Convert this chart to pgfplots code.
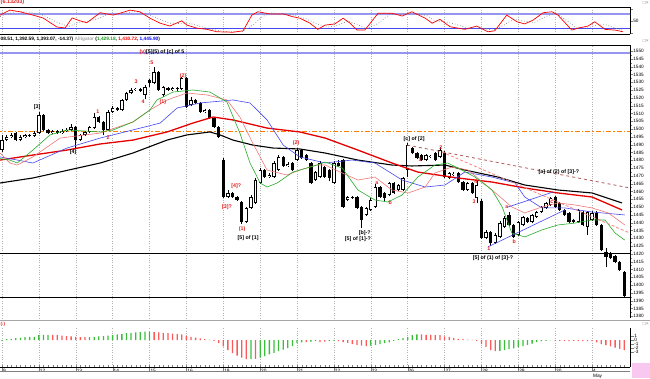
\documentclass[border=0pt]{standalone}
\usepackage{fontspec}
\setmainfont{Liberation Sans}
\usepackage{pgfplots}
\usepackage{pgfplotstable}
\pgfplotsset{compat=1.18}

\definecolor{lipsgreen}{RGB}{40,170,40}
\definecolor{teethred}{RGB}{240,120,120}
\definecolor{jawblue}{RGB}{70,70,240}
\definecolor{lavender}{RGB}{150,150,240}
\definecolor{lblred}{RGB}{225,30,30}
\definecolor{histgreen}{RGB}{60,190,60}
\definecolor{histred}{RGB}{250,90,90}
\definecolor{trendbrown}{RGB}{180,90,90}
\definecolor{trendsalmon}{RGB}{245,130,130}
\definecolor{pinkbox}{RGB}{248,200,240}
\definecolor{txtgreen}{RGB}{30,150,30}

% up (white) candles: bar index, open, high, low, close
\pgfplotstableread{
x o h l c
0 1486.5 1496.0 1485.5 1492.9
1 1492.9 1496.2 1492.0 1494.9
2 1494.9 1497.5 1494.0 1496.2
4 1492.9 1496.0 1492.0 1494.9
5 1494.9 1497.0 1494.0 1496.2
7 1495.5 1498.5 1495.0 1497.4
8 1497.4 1510.9 1496.8 1509.0
11 1497.4 1499.4 1496.8 1498.7
13 1497.4 1500.0 1497.0 1498.7
14 1498.7 1500.6 1498.0 1499.4
15 1499.4 1503.2 1498.7 1501.3
17 1492.9 1497.0 1492.3 1496.2
18 1496.2 1499.0 1495.5 1498.1
19 1498.1 1502.0 1497.4 1501.3
20 1500.6 1510.0 1500.0 1507.7
23 1499.4 1512.0 1498.7 1510.9
24 1510.9 1514.5 1510.3 1513.5
26 1512.2 1519.5 1511.5 1518.6
27 1518.6 1524.0 1518.0 1523.1
28 1523.1 1526.3 1522.4 1525.0
29 1525.0 1526.3 1524.4 1525.7
31 1521.8 1528.0 1519.0 1526.9
33 1529.5 1539.7 1528.8 1536.5
35 1521.8 1527.6 1520.5 1526.9
37 1525.0 1527.0 1524.4 1526.3
39 1525.6 1533.4 1525.0 1532.7
41 1515.4 1520.5 1514.8 1518.6
44 1510.9 1513.0 1510.0 1512.2
49 1456.4 1460.9 1455.8 1459.0
53 1440.4 1450.0 1439.7 1449.4
54 1449.4 1457.7 1448.8 1456.4
55 1452.6 1468.6 1452.0 1467.3
56 1465.4 1475.0 1464.8 1473.7
58 1469.2 1471.5 1468.6 1470.5
59 1469.2 1479.5 1468.6 1478.2
60 1473.7 1483.3 1473.0 1482.1
62 1476.3 1478.8 1475.6 1477.6
64 1480.1 1488.0 1479.5 1486.5
68 1467.3 1473.0 1466.6 1472.4
69 1469.2 1479.5 1468.6 1478.2
72 1465.4 1479.5 1464.8 1478.2
75 1454.5 1457.0 1453.9 1456.4
79 1444.9 1450.0 1444.3 1449.4
80 1448.1 1456.0 1447.5 1454.5
81 1450.0 1465.0 1449.4 1462.8
84 1457.7 1466.0 1457.0 1465.4
86 1460.9 1465.0 1460.3 1464.1
87 1460.9 1469.2 1460.3 1468.6
88 1473.7 1491.0 1469.2 1489.7
92 1480.1 1484.0 1479.5 1483.3
93 1482.1 1483.3 1481.4 1482.8
95 1482.1 1488.5 1481.4 1486.5
97 1468.6 1472.4 1468.0 1471.8
98 1470.5 1472.4 1469.8 1471.2
101 1460.9 1466.0 1460.3 1465.4
103 1455.8 1467.0 1452.6 1464.1
105 1430.1 1435.3 1429.5 1434.0
107 1426.9 1433.3 1426.3 1432.1
108 1430.8 1441.0 1430.1 1439.7
109 1437.2 1444.3 1436.5 1443.0
112 1432.1 1441.0 1431.5 1440.4
113 1438.5 1444.3 1437.8 1443.6
115 1440.4 1445.5 1439.7 1444.9
116 1443.6 1447.5 1443.0 1446.8
117 1446.8 1450.6 1446.2 1450.0
118 1449.4 1453.2 1448.8 1452.6
119 1451.3 1456.4 1450.6 1455.8
125 1440.4 1448.8 1439.7 1448.1
127 1437.2 1447.5 1432.1 1446.8
128 1441.7 1447.5 1441.0 1446.2
}\upcandles

% down (black) candles
\pgfplotstableread{
x o h l c
3 1497.4 1498.1 1492.0 1492.9
6 1496.2 1497.0 1494.8 1495.5
9 1509.0 1509.6 1498.7 1499.4
10 1499.4 1500.0 1496.8 1497.4
12 1498.7 1499.4 1496.8 1497.4
16 1501.3 1502.0 1488.0 1492.9
21 1507.7 1508.5 1504.0 1504.5
22 1504.5 1505.0 1496.0 1499.4
25 1513.5 1514.0 1511.5 1512.2
30 1525.6 1526.0 1523.7 1524.4
32 1531.4 1532.0 1527.0 1529.5
34 1536.5 1537.2 1524.4 1525.0
36 1526.3 1527.0 1524.4 1525.0
38 1526.3 1526.9 1524.4 1525.6
40 1532.7 1533.4 1513.5 1514.1
42 1518.6 1519.2 1516.0 1516.7
43 1516.7 1517.3 1510.3 1510.9
45 1512.2 1512.8 1506.4 1507.1
46 1507.1 1507.7 1500.6 1501.3
47 1501.3 1502.0 1494.2 1494.9
48 1480.1 1481.4 1455.8 1456.4
50 1459.0 1459.6 1455.8 1456.4
51 1456.4 1457.0 1453.9 1454.5
52 1453.2 1454.0 1439.1 1440.4
57 1473.7 1474.3 1468.6 1469.2
61 1482.1 1482.7 1475.6 1476.3
63 1478.2 1478.8 1473.0 1473.7
65 1486.5 1487.0 1480.8 1481.4
66 1483.3 1484.0 1479.5 1480.1
67 1478.2 1478.8 1464.8 1465.4
70 1475.6 1476.3 1468.6 1469.2
71 1473.7 1474.3 1466.6 1468.6
73 1478.2 1480.1 1475.6 1476.3
74 1480.1 1480.8 1449.4 1450.0
76 1456.4 1457.0 1455.2 1455.8
77 1456.4 1457.0 1448.8 1449.4
78 1450.0 1450.6 1436.5 1441.7
82 1462.8 1463.5 1455.8 1456.4
83 1459.0 1459.6 1453.2 1455.8
85 1465.4 1466.0 1458.4 1459.0
89 1487.8 1488.5 1484.0 1484.6
90 1484.6 1485.3 1480.8 1481.4
91 1483.3 1484.0 1479.5 1480.1
94 1484.6 1485.3 1479.5 1480.1
96 1484.6 1486.0 1468.6 1469.2
99 1471.8 1472.4 1465.4 1466.0
100 1466.0 1466.6 1460.3 1460.9
102 1465.4 1466.0 1458.4 1459.0
104 1453.9 1455.0 1429.5 1430.1
106 1434.0 1434.6 1425.0 1426.9
110 1444.9 1446.8 1437.8 1438.5
111 1438.5 1439.1 1430.1 1430.8
114 1443.0 1443.6 1439.7 1440.4
120 1456.4 1457.0 1449.4 1450.0
121 1452.6 1453.2 1447.5 1448.1
122 1448.1 1448.8 1444.3 1444.9
123 1446.2 1446.8 1439.7 1440.4
124 1441.7 1442.4 1439.7 1440.4
126 1446.8 1447.5 1437.8 1438.5
129 1446.2 1447.5 1437.8 1438.5
130 1438.5 1439.1 1421.8 1422.4
131 1421.2 1423.7 1411.5 1417.9
132 1420.5 1421.2 1416.6 1417.3
133 1418.6 1419.2 1414.0 1414.7
134 1414.7 1415.4 1409.0 1409.6
135 1408.5 1409.2 1392.6 1393.1
}\downcandles

% histogram (green bars)
\pgfplotstableread{
x v
0 -0.3
1 0.2
2 0.3
3 0.5
4 0.6
5 0.7
6 0.8
7 0.8
8 1.2
9 1.3
10 1.3
19 0.7
20 0.8
21 0.9
22 1.0
23 1.1
24 1.2
25 1.4
26 1.5
27 1.7
28 1.8
29 1.9
30 2.0
31 2.1
32 2.1
54 -4.8
56 -4.4
57 -4.0
58 -3.6
59 -3.2
60 -2.8
61 -2.4
62 -2.0
63 -1.5
64 -0.8
65 -0.6
67 -0.4
68 -0.3
71 -0.3
72 -0.2
80 -1.4
81 -1.2
82 -1.0
83 -0.8
84 -0.6
85 -0.2
86 0.2
87 0.5
88 0.8
89 1.2
90 1.4
108 -2.7
109 -2.5
110 -2.3
111 -2.1
112 -1.8
113 -1.5
114 -1.2
115 -0.9
116 -0.5
117 -0.3
118 -0.2
119 -0.1
}\histgreen

% histogram (red bars)
\pgfplotstableread{
x v
11 1.3
12 1.2
13 1.1
14 1.0
15 0.9
16 0.8
17 0.7
18 0.7
33 2.0
34 1.9
35 1.8
36 1.7
37 1.6
38 1.5
39 1.4
40 1.0
41 0.8
42 0.6
43 0.4
44 0.2
45 0.1
46 -0.2
47 -0.8
48 -1.6
49 -2.5
50 -3.3
51 -3.9
52 -4.4
53 -4.8
55 -4.7
66 -0.5
69 -0.5
70 -0.4
73 -0.3
74 -0.5
75 -0.7
76 -1.0
77 -1.2
78 -1.4
79 -1.5
91 1.4
92 1.3
93 1.3
94 1.2
95 1.2
96 0.9
97 0.7
98 0.5
99 0.3
100 0.2
101 0.1
102 0.05
103 -0.2
104 -1.0
105 -1.8
106 -2.5
107 -2.8
120 -0.2
121 -0.2
122 -0.25
123 -0.25
124 -0.2
125 -0.2
126 -0.25
127 -0.3
128 -0.3
129 -0.6
130 -1.0
131 -1.3
132 -1.6
133 -1.9
134 -2.2
135 -2.5
}\histred

\pgfplotsset{
  panel/.style={
    anchor=south west, scale only axis, width=630pt,
    xmin=-0.434, xmax=136.23,
    axis y line*=right,
    xtick={0,8,...,128},
    xmajorgrids, major grid style={gray!60, dotted},
    tick align=outside, major tick length=2.5pt, minor tick length=1.5pt,
    yticklabel style={font=\fontsize{4.7}{5}\selectfont, inner sep=0.6pt},
    /pgf/number format/1000 sep={},
    /pgf/number format/assume math mode=true,
    axis line style={black, line width=0.6pt},
    clip mode=individual,
  },
}
\tikzset{
  lb/.style={font=\fontsize{5.3}{6}\selectfont\bfseries, inner sep=0pt},
  rl/.style={lb, text=lblred},
  icon/.style={anchor=east, inner sep=0pt, text=gray, font=\fontsize{5}{5}\selectfont},
}

\begin{document}
\begin{tikzpicture}[x=1pt,y=1pt]
\path[use as bounding box] (0,0) rectangle (650,378);

% ---------------- stochastic panel ----------------
\begin{axis}[panel, at={(0pt,344pt)}, height=27pt,
  ymin=-3.4, ymax=110,
  axis x line*=box,
  xticklabels={}, x tick style={draw=none},
  ytick={0,50,100}, yticklabels={,50,},
]
\addplot[lavender, line width=1.6pt] coordinates {(-1,80) (137,80)};
\addplot[jawblue, line width=0.9pt] coordinates {(-1,20) (137,20)};
\addplot[gray, dotted, line width=0.7pt] coordinates {
(-0.4,70) (3,92) (6,88) (9,75) (12,45) (14.5,28) (16.5,45) (18.5,50) (21,62) (23,80)
(26,82) (29,92) (31.5,82) (34,60) (36.5,42) (39,40) (41,40) (43,28) (46,14) (49,6)
(52,6) (54.5,35) (56.5,70) (58.5,85) (61,82) (63.5,75) (66,60) (68.5,38) (70.5,25)
(72.5,32) (75,50) (77,38) (79,18) (81.5,40) (84,78) (86.5,80) (89,82) (92,75) (94,52)
(96,48) (98,40) (101,22) (104,22) (106.5,12) (108.5,30) (111,58) (113.5,50) (115.5,45)
(118,70) (120,85) (122,60) (124.5,25) (127,22) (129,35) (131,35) (133.5,18) (134.8,12)};
\addplot[red, line width=0.7pt] coordinates {
(-0.4,76) (1.7,97) (3.9,90) (6.7,76) (8.9,64) (11.9,26) (13.7,22) (15.2,64) (16.9,52)
(18.4,44) (20.6,76) (21.3,86) (24.1,76) (25.6,84) (27.8,97) (29.9,90) (32.1,63) (34.3,42)
(36.4,30) (39,52) (40.1,34) (42.3,21) (44.5,16) (46.6,6) (50.1,4) (52.3,10) (54.2,76)
(55.5,90) (58.1,81) (61,81) (63.1,69) (64.6,63) (66.8,42) (68.5,16) (70.1,34) (72.2,39)
(74,63) (75.5,42) (77,13) (78.7,13) (81.6,84) (84.6,84) (86.8,72) (88.9,90) (91.8,63)
(93.3,42) (95,58) (97.2,27) (100.4,16) (103,30) (105.4,6) (106.9,10) (109.5,76)
(111.7,48) (113.4,39) (115.2,55) (117.4,86) (119.3,90) (120.6,76) (123.6,13) (124.9,21)
(127.1,30) (128.6,48) (130.8,16) (133,13) (134.7,6)};
\end{axis}

% ---------------- main price panel ----------------
\begin{axis}[panel, at={(0pt,60pt)}, height=273pt,
  ymin=1378.85, ymax=1553.85,
  axis x line*=top,
  xticklabels={}, x tick style={draw=none},
  ytick={1380,1385,...,1550}, minor y tick num=1,
]
% horizontal levels
\addplot[color=orange, line width=1.1pt, dash pattern=on 5pt off 2pt on 1.5pt off 2pt] coordinates {(-1,1498.3) (137,1498.3)};
\addplot[lavender, line width=1.8pt] coordinates {(-1,1548.5) (137,1548.5)};
\addplot[black, line width=0.8pt] coordinates {(-1,1420.5) (137,1420.5)};
\addplot[black, line width=0.8pt] coordinates {(-1,1392.1) (137,1392.1)};

% candles: wicks
\addplot[draw=none, mark=none, error bars/.cd, y dir=plus, y explicit, error mark=none,
  error bar style={draw=black, line width=0.6pt}]
  table[x=x, y=l, y error expr=\thisrow{h}-\thisrow{l}] {\upcandles};
\addplot[draw=none, mark=none, error bars/.cd, y dir=plus, y explicit, error mark=none,
  error bar style={draw=black, line width=0.6pt}]
  table[x=x, y=l, y error expr=\thisrow{h}-\thisrow{l}] {\downcandles};
% candles: bodies
\addplot[draw=none, mark=none, error bars/.cd, y dir=plus, y explicit, error mark=none,
  error bar style={draw=black, line width=3.3pt}]
  table[x=x, y=c, y error expr=\thisrow{o}-\thisrow{c}] {\downcandles};
\addplot[draw=none, mark=none, error bars/.cd, y dir=plus, y explicit, error mark=none,
  error bar style={draw=black, line width=3.3pt}]
  table[x=x, y=o, y error expr=\thisrow{c}-\thisrow{o}] {\upcandles};
\addplot[draw=none, mark=none, error bars/.cd, y dir=plus, y explicit, error mark=none,
  error bar style={draw=white, line width=1.9pt}]
  table[x=x, y expr=\thisrow{o}+0.45, y error expr=\thisrow{c}-\thisrow{o}-0.9] {\upcandles};

% long moving averages
\addplot[black, line width=1.1pt] coordinates {
(-0.4,1465.4) (6.7,1468.6) (21.3,1478.2) (28.4,1484.6) (35.8,1492.9) (40.1,1496.2)
(45.1,1498.1) (47.3,1496.2) (50.1,1492.9) (54.4,1489.7) (58.8,1487.8) (64.6,1487.2)
(70.1,1484.6) (77.2,1480.1) (84.6,1476.9) (88.9,1476.3) (96.1,1476.9) (100.4,1473.7)
(107.6,1469.2) (113.4,1464.1) (120.6,1460.9) (128,1459.0) (134.5,1452.6)};
\addplot[red!90!black, line width=1.3pt] coordinates {
(-0.4,1480.1) (6.7,1483.3) (14.1,1486.5) (21.3,1490.4) (28.4,1492.9) (35.8,1498.1)
(41.4,1503.8) (45.8,1507.7) (50.1,1505.8) (57.5,1500.6) (64.6,1498.1) (70.1,1494.2)
(77.2,1486.5) (84.6,1478.2) (90.2,1472.4) (98.9,1468.6) (106.3,1466.0) (113.4,1462.2)
(120.6,1459.0) (128,1456.4) (134.5,1448.1)};
% alligator: jaw, teeth, lips
\addplot[jawblue, line width=0.6pt] coordinates {
(-0.4,1482.1) (3.3,1480.1) (6.7,1478.2) (14.1,1487.8) (21.3,1494.2) (28.4,1499.4)
(34.3,1503.8) (38,1513.5) (43,1516.7) (50.1,1518.6) (53.8,1516.7) (57.5,1505.8)
(61,1489.7) (64.6,1482.1) (70.1,1478.2) (75.9,1480.1) (80.9,1478.2) (86.8,1467.3)
(91.8,1462.8) (96.1,1464.1) (100.4,1472.4) (106.3,1469.2) (111.3,1465.4) (113.4,1456.4)
(117.1,1449.4) (122.1,1449.4) (128,1446.8) (135.1,1444.9)};
\addplot[teethred, line width=0.6pt] coordinates {
(-0.4,1484.6) (1.7,1478.2) (3.3,1476.9) (6.7,1482.1) (12.6,1494.2) (21.3,1497.4)
(28.4,1504.5) (32.1,1512.2) (35.8,1518.6) (40.1,1523.1) (44.5,1521.8) (48.8,1518.6)
(51.6,1507.7) (54.4,1491.0) (57.5,1473.7) (61.8,1470.5) (64.6,1473.7) (68.3,1476.9)
(70.1,1476.9) (73.8,1471.8) (77.2,1467.3) (80.9,1469.2) (84.6,1460.9) (88.1,1459.0)
(91.8,1462.8) (93.9,1471.8) (97.6,1475.6) (101.1,1473.7) (106.3,1460.9) (110.6,1450.0)
(113.4,1446.2) (117.1,1450.0) (120.6,1452.6) (124.3,1451.3) (128,1449.4) (131.5,1446.2)
(135.1,1438.5)};
\addplot[lipsgreen, line width=0.6pt] coordinates {
(-0.4,1481.0) (1.7,1480.1) (3.3,1478.2) (6.7,1486.5) (10.4,1496.2) (14.1,1499.4)
(21.3,1498.1) (24.1,1499.4) (28.4,1504.5) (32.1,1512.2) (33.6,1518.6) (37.1,1523.7)
(41.4,1525.0) (45.1,1523.7) (48.8,1517.3) (51.6,1497.4) (53.8,1478.2) (56,1465.4)
(57.5,1462.8) (59.7,1465.4) (63.1,1472.4) (68.3,1476.9) (70.1,1478.8) (73.8,1475.0)
(77.2,1460.9) (80.9,1454.5) (83.7,1453.2) (86.8,1457.7) (90.2,1469.2) (93.9,1476.9)
(96.7,1478.2) (98.9,1475.0) (102.6,1469.2) (106.3,1460.9) (108.5,1450.0) (110.6,1433.3)
(113.4,1430.8) (117.1,1435.3) (120.6,1438.5) (124.3,1439.7) (128,1441.7) (130.8,1441.7)
(133,1433.3) (135.1,1428.8)};
% trend lines
\addplot[trendbrown, dashed, line width=0.8pt] coordinates {(87.9,1489.7) (136.2,1462.2)};
\addplot[trendsalmon, densely dashed, line width=0.8pt] coordinates {(95.4,1485.3) (136.2,1433.3)};
\addplot[jawblue, line width=0.6pt] coordinates {(105.4,1424.4) (122.1,1448.1)};
\addplot[jawblue, line width=0.6pt] coordinates {(109.8,1450.0) (119.5,1459.6)};

% wave labels
\node[lb] at (axis cs:34.7,1549.0) {\textcolor{lblred}{(v)}[5](5) of [c] of 5};
\node[lb] at (axis cs:7.6,1514.1) {[3]};
\node[lb] at (axis cs:15.4,1485.3) {[4]};
\node[rl] at (axis cs:20.8,1510.9) {1};
\node[rl] at (axis cs:23.0,1494.2) {2};
\node[rl] at (axis cs:29.1,1530.1) {3};
\node[rl] at (axis cs:30.6,1517.3) {4};
\node[rl] at (axis cs:32.5,1542.3) {5};
\node[rl] at (axis cs:34.9,1517.3) {(1)};
\node[rl] at (axis cs:39.3,1534.0) {(2)};
\node[rl] at (axis cs:48.8,1450.0) {[3]?};
\node[rl] at (axis cs:50.8,1463.5) {[4]?};
\node[rl] at (axis cs:52.1,1436.0) {(1)};
\node[lb] at (axis cs:53.4,1429.8) {[5] of [1]};
\node[rl] at (axis cs:63.8,1491.0) {(2)};
\node[lb] at (axis cs:78.7,1433.3) {[b]-?};
\node[lb] at (axis cs:77.2,1429.3) {[5] of [1]-?};
\node[rl] at (axis cs:81.3,1465.4) {a};
\node[rl] at (axis cs:84.2,1452.6) {b};
\node[lb] at (axis cs:89.4,1493.6) {[c] of [2]};
\node[rl] at (axis cs:90.7,1480.1) {1};
\node[rl] at (axis cs:95.2,1487.8) {2};
\node[rl] at (axis cs:102.8,1466.0) {4};
\node[rl] at (axis cs:102.4,1453.2) {3};
\node[rl] at (axis cs:105.6,1423.1) {1};
\node[rl] at (axis cs:109.5,1450.0) {a};
\node[rl] at (axis cs:111.1,1427.6) {b};
\node[rl] at (axis cs:119.3,1453.2) {c};
\node[lb] at (axis cs:120.8,1472.4) {[a] of (2) of [3]-?};
\node[lb] at (axis cs:106.5,1417.3) {[5] of (1) of [3]-?};
\end{axis}

% ---------------- histogram panel ----------------
\begin{axis}[panel, at={(0pt,11pt)}, height=39pt,
  ymin=-6.75, ymax=3,
  axis x line*=bottom,
  xticklabels={9,12,13,14,15,16,19,20,21,22,23,26,27,28,29,30,{4\\May}},
  xticklabel style={anchor=north west, font=\fontsize{4.8}{5.2}\selectfont, inner sep=0.5pt, align=left, xshift=0.3pt, yshift=2pt},
  major tick length=3.5pt,
  extra x ticks={0,...,135}, extra x tick labels={},
  extra x tick style={tick align=inside, major tick length=2.5pt, grid=none},
  ytick={-3,-2,-1,0,1},
]
\addplot[ybar, bar width=1.3pt, bar shift=0pt, fill=histgreen, draw=none] table[x=x, y=v] {\histgreen};
\addplot[ybar, bar width=1.3pt, bar shift=0pt, fill=histred, draw=none] table[x=x, y=v] {\histred};
\end{axis}

% ---------------- frame texts and separators ----------------
\node[anchor=west, inner sep=0pt, text=lblred, font=\fontsize{5.5}{6}\selectfont\bfseries] at (0.5,375.5) {(6.13203)};
\node[anchor=west, inner sep=0pt, font=\fontsize{4.8}{5.5}\selectfont\bfseries] at (0.5,338.8)
  {08.51, 1,392.59, 1,393.07, -14.37) \textcolor{gray!70}{Alligator} (\textcolor{txtgreen}{1,429.18}, \textcolor{red}{1,430.72}, \textcolor{blue}{1,445.90})};
\draw[gray!70, line width=1.5pt] (0,57.5) -- (650,57.5);
\node[anchor=west, inner sep=0pt, text=lblred, font=\fontsize{4.5}{5}\selectfont\bfseries] at (0.5,53.5) {(:)};
\draw[gray, line width=0.6pt] (0,7) -- (630,7);
\fill[pinkbox] (632,0) rectangle (650,15);
\node[icon] at (649,375) {□×};
\node[icon] at (649,337) {□×};
\node[icon] at (649,54) {□×};
\end{tikzpicture}
\end{document}
